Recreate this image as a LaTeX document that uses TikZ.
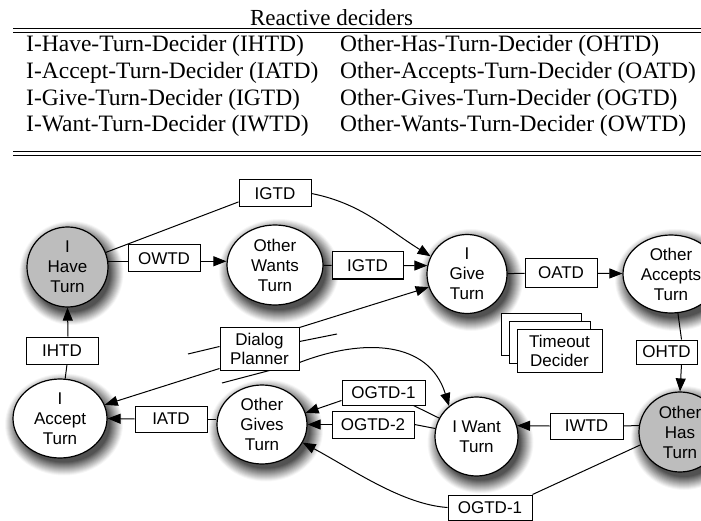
\documentclass[tikz,border=0pt]{standalone}
\usepackage{fontspec}
\setmainfont{Liberation Serif}
\newfontfamily\hv{Liberation Sans}
\usetikzlibrary{shapes.geometric,arrows.meta,calc}
\definecolor{turngray}{gray}{0.74}
\newcommand\turnshadow[3]{%
  \foreach \k in {0,...,13}{%
    \pgfmathtruncatemacro\shv{5*\k+3}%
    \fill[black!\shv] ($(#1)+(4,6)$) ellipse [x radius=#2-\k, y radius=#3-\k];}}
\begin{document}
\begin{tikzpicture}[x=1pt,y=-1pt,
  turnst/.style={ellipse, draw, line width=1.2pt, fill=white, inner sep=0pt},
  sttext/.style={font=\hv\fontsize{17}{20}\selectfont, align=center, inner sep=0pt},
  dbox/.style={draw, line width=1pt, fill=white, font=\hv\fontsize{17}{20}\selectfont, align=center, inner sep=0pt},
  tabtext/.style={font=\fontsize{23.5}{26}\selectfont, inner sep=0pt, anchor=west},
  edge/.style={line width=1pt},
  arr/.style={line width=1pt, -{Triangle[length=13pt,width=10pt]}},
]
\path[use as bounding box] (0,0) rectangle (701,521);
\clip (0,0) rectangle (701,521);

% ---------- table ----------
\node[tabtext, anchor=center, font=\fontsize{23}{26}\selectfont] (title) at (331.5,17.5) {Reactive deciders};
\draw[line width=1pt] (13,28.5) -- (701,28.5);
\draw[line width=1pt] (13,32.3) -- (701,32.3);
\node[tabtext] (r1a) at (26,46) {I-Have-Turn-Decider (IHTD)};
\node[tabtext] (r2a) at (26,73) {I-Accept-Turn-Decider (IATD)};
\node[tabtext] (r3a) at (26,99.5) {I-Give-Turn-Decider (IGTD)};
\node[tabtext] (r4a) at (26,126) {I-Want-Turn-Decider (IWTD)};
\node[tabtext] (r1b) at (340,46) {Other-Has-Turn-Decider (OHTD)};
\node[tabtext] (r2b) at (340,73) {Other-Accepts-Turn-Decider (OATD)};
\node[tabtext] (r3b) at (340,99.5) {Other-Gives-Turn-Decider (OGTD)};
\node[tabtext] (r4b) at (340,126) {Other-Wants-Turn-Decider (OWTD)};
\draw[line width=1pt] (13,151.5) -- (701,151.5);
\draw[line width=1pt] (13,155.3) -- (701,155.3);

% ---------- state centres and shadows ----------
\coordinate (ihtc) at (67.5,267);
\coordinate (owtc) at (275,265);
\coordinate (igtc) at (467,274);
\coordinate (oatc) at (671,274);
\coordinate (ohtc) at (680,432);
\coordinate (iwtc) at (476.5,436.5);
\coordinate (ogtc) at (262,424.5);
\coordinate (iatc) at (60,418.5);
\turnshadow{ihtc}{52}{52}
\turnshadow{owtc}{60}{52}
\turnshadow{igtc}{52}{51}
\turnshadow{oatc}{60}{51}
\turnshadow{ohtc}{53}{52}
\turnshadow{iwtc}{53}{51}
\turnshadow{ogtc}{57}{51}
\turnshadow{iatc}{59}{51}

% ---------- states ----------
\node[turnst, fill=turngray, minimum width=81pt, minimum height=80pt] (iht) at (ihtc) {};
\node[turnst, minimum width=96pt, minimum height=80pt] (owt) at (owtc) {};
\node[turnst, minimum width=80pt, minimum height=79pt] (igt) at (igtc) {};
\node[turnst, minimum width=96pt, minimum height=78pt] (oat) at (oatc) {};
\node[turnst, fill=turngray, minimum width=82pt, minimum height=80pt] (oht) at (ohtc) {};
\node[turnst, minimum width=83pt, minimum height=79pt] (iwt) at (iwtc) {};
\node[turnst, minimum width=90pt, minimum height=79pt] (ogt) at (ogtc) {};
\node[turnst, minimum width=94pt, minimum height=79pt] (iat) at (iatc) {};

\node[sttext] (iht-t) at (iht) {I\\Have\\Turn};
\node[sttext] (owt-t) at (owt) {Other\\Wants\\Turn};
\node[sttext] (igt-t) at (igt) {I\\Give\\Turn};
\node[sttext] (oat-t) at (oat) {Other\\Accepts\\Turn};
\node[sttext] (oht-t) at (oht) {Other\\Has\\Turn};
\node[sttext] (iwt-t) at (iwt) {I Want\\Turn};
\node[sttext] (ogt-t) at (ogt) {Other\\Gives\\Turn};
\node[sttext] (iat-t) at (iat) {I\\Accept\\Turn};

% ---------- decider boxes ----------
\node[dbox, minimum width=72pt, minimum height=27pt] (igtdA) at (275,193.5) {IGTD};
\node[dbox, minimum width=72pt, minimum height=27pt] (owtd) at (164,258.5) {OWTD};
\node[dbox, minimum width=71pt, minimum height=27pt] (igtdB) at (367.5,265.5) {IGTD};
\node[dbox, minimum width=72pt, minimum height=28pt] (oatd) at (561,273) {OATD};
\node[dbox, minimum width=61pt, minimum height=24pt] (ohtd) at (666.5,352) {OHTD};
\node[dbox, minimum width=72pt, minimum height=27pt] (ihtd) at (62,350.5) {IHTD};
\node[dbox, minimum width=72pt, minimum height=26pt] (iatd) at (171,419) {IATD};
\node[dbox, minimum width=83pt, minimum height=25pt] (ogtdA) at (383.5,392.5) {OGTD-1};
\node[dbox, minimum width=82pt, minimum height=27pt] (ogtdB) at (373,424.5) {OGTD-2};
\node[dbox, minimum width=73pt, minimum height=26pt] (iwtd) at (586.5,426) {IWTD};
\node[dbox, minimum width=84pt, minimum height=25pt] (ogtdC) at (490,507.5) {OGTD-1};
\node[dbox, minimum width=79pt, minimum height=43pt] (dp) at (259.5,348.5) {Dialog\\[-1pt]Planner};
\node[dbox, minimum width=80pt, minimum height=42pt] (tdA) at (541,334) {};
\node[dbox, minimum width=81pt, minimum height=42pt] (tdB) at (549.5,342) {};
\node[dbox, minimum width=85pt, minimum height=43pt] (tdC) at (559.5,350.5) {Timeout\\[-1pt]Decider};

% ---------- connectors ----------
\draw[edge] (iht) -- (igtdA.193);
\draw[arr] (igtdA.east) .. controls +(50,10) and +(-45,-28) .. (igt.154);
\draw[edge] (iht.8) -- (owtd.west |- iht.8);
\draw[arr] (owtd.east |- iht.8) -- (owt.west |- iht.8);
\draw[edge] (owt) -- (igtdB);
\draw[arr] (igtdB.east) -- (igt.168);
\draw[edge] (igt) -- (oatd);
\draw[arr] (oatd) -- (oat);
\draw[edge] (oat.-80) -- ([xshift=15pt]ohtd.north);
\draw[arr] ([xshift=15pt]ohtd.south) -- (oht.north);
\draw[edge] (oht.171) -- (iwtd.east);
\draw[arr] (iwtd.west) -- (iwt.15);
\draw[edge] (oht.198) -- (ogtdC.north east);
\draw[arr] (ogtdC.west) .. controls +(-45,-3) and +(50,27) .. (ogt.-24);
\draw[edge] (iwt) -- ([xshift=30pt]ogtdA.south);
\draw[arr] ([yshift=-8pt]ogtdA.west) -- (ogt.15);
\draw[edge] (iwt) -- (ogtdB.east);
\draw[arr] (ogtdB.west) -- (ogt);
\draw[edge] (iatd.east) -- (ogt.west |- iatd.east);
\draw[arr] (iatd.west) -- (iat.east);
\draw[edge] ([xshift=5pt]ihtd.south) -- (iat);
\draw[arr] ([xshift=6pt]ihtd.north) -- (iht.south);

% dialog planner lines
\coordinate (dpfreeA) at (337,334);
\coordinate (dpfreeB) at (188,354);
\coordinate (dpfreeC) at (222,383);
\draw[arr] ([yshift=-1pt]dp.north east) -- (igt.199);
\draw[edge] ([yshift=-15pt]dp.north east) -- (dpfreeA);
\draw[edge] (dpfreeB) -- ([yshift=-20pt]dp.north west);
\draw[arr] ([yshift=2pt]dp.south west) -- (iat.17);
\draw[arr] ([yshift=8pt]dp.south east) .. controls +(65,-25) and +(-20,-65) .. (iwt.132);
\draw[edge] (dpfreeC) -- ([xshift=10pt]dp.south);
\end{tikzpicture}
\end{document}
